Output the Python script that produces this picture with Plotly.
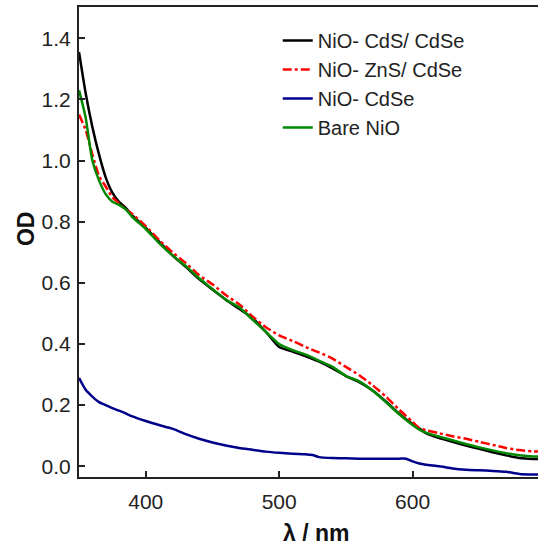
import plotly.graph_objects as go

lam_main = [350, 355, 360, 365, 370, 375, 380, 385, 390, 400, 410, 420, 430, 440, 450,
            460, 470, 480, 490, 500, 510, 520, 530, 540, 550, 560, 570, 580, 590, 600,
            605, 610, 620, 630, 640, 650, 660, 670, 680, 690, 694]

od_cds = [1.355, 1.22, 1.11, 1.02, 0.945, 0.895, 0.865, 0.845, 0.82, 0.78, 0.735, 0.69,
          0.652, 0.612, 0.578, 0.545, 0.515, 0.485, 0.44, 0.39, 0.375, 0.36, 0.342, 0.32,
          0.295, 0.275, 0.248, 0.212, 0.172, 0.138, 0.124, 0.108, 0.092, 0.08, 0.068,
          0.057, 0.046, 0.036, 0.027, 0.024, 0.024]

od_zns = [1.15, 1.10, 1.02, 0.95, 0.915, 0.88, 0.86, 0.84, 0.825, 0.785, 0.74, 0.70,
          0.665, 0.625, 0.595, 0.56, 0.53, 0.49, 0.455, 0.428, 0.41, 0.39, 0.372, 0.352,
          0.325, 0.298, 0.265, 0.228, 0.185, 0.145, 0.125, 0.118, 0.108, 0.098, 0.09,
          0.08, 0.07, 0.06, 0.053, 0.049, 0.048]

od_bare = [1.23, 1.14, 1.00, 0.935, 0.89, 0.865, 0.855, 0.84, 0.815, 0.776, 0.73, 0.69,
           0.655, 0.615, 0.58, 0.545, 0.52, 0.48, 0.44, 0.40, 0.38, 0.365, 0.345, 0.325,
           0.296, 0.278, 0.248, 0.21, 0.17, 0.135, 0.12, 0.11, 0.097, 0.085, 0.073,
           0.062, 0.052, 0.043, 0.036, 0.032, 0.032]

lam_cdse = [350, 355, 360, 365, 370, 375, 380, 385, 390, 400, 410, 420, 430, 440, 450,
            460, 470, 480, 490, 500, 510, 520, 525, 530, 540, 550, 560, 570, 580, 590,
            595, 600, 605, 610, 620, 630, 640, 650, 660, 670, 680, 690, 694]
od_cdse = [0.289, 0.25, 0.228, 0.21, 0.2, 0.19, 0.182, 0.173, 0.163, 0.148, 0.135, 0.123,
           0.105, 0.09, 0.078, 0.068, 0.06, 0.054, 0.048, 0.044, 0.041, 0.039, 0.037,
           0.03, 0.027, 0.026, 0.025, 0.025, 0.025, 0.025, 0.025, 0.016, 0.009, 0.005,
           0.0, -0.007, -0.011, -0.013, -0.015, -0.018, -0.025, -0.027, -0.027]

names = ["NiO- CdS/ CdSe", "NiO- ZnS/ CdSe", "NiO- CdSe", "Bare NiO"]
x_ticks = [400, 500, 600]
y_ticks = [0.0, 0.2, 0.4, 0.6, 0.8, 1.0, 1.2, 1.4]

fig = go.Figure()
fig.add_trace(go.Scatter(x=lam_main, y=od_cds, name=names[0], mode="lines",
                         line=dict(color="#000000", width=2.5, shape="spline", smoothing=0.6)))
fig.add_trace(go.Scatter(x=lam_main, y=od_zns, name=names[1], mode="lines",
                         line=dict(color="#FF0000", width=2.5, dash="dashdot", shape="spline", smoothing=0.6)))
fig.add_trace(go.Scatter(x=lam_cdse, y=od_cdse, name=names[2], mode="lines",
                         line=dict(color="#00008B", width=2.5, shape="spline", smoothing=0.6)))
fig.add_trace(go.Scatter(x=lam_main, y=od_bare, name=names[3], mode="lines",
                         line=dict(color="#008800", width=2.5, shape="spline", smoothing=0.6)))

font_family = "Liberation Sans, Arial, sans-serif"
fig.update_layout(
    width=538, height=545,
    margin=dict(l=79, r=0, t=7, b=68, autoexpand=False),
    paper_bgcolor="white", plot_bgcolor="white",
    font=dict(family=font_family, size=21, color="#222222"),
    showlegend=True,
    legend=dict(x=0.433, y=0.97, xanchor="left", yanchor="top",
                bgcolor="rgba(0,0,0,0)", font=dict(size=20, color="#222222"),
                tracegroupgap=0, itemwidth=30),
    xaxis=dict(range=[350, 694], tickvals=x_ticks, ticks="inside", ticklen=6, tickwidth=1.5,
               tickcolor="#222222", showline=True, linecolor="#222222", linewidth=2,
               mirror=True, showgrid=False, zeroline=False, ticklabelstandoff=5,
               tickfont=dict(size=21)),
    yaxis=dict(range=[-0.035, 1.502], tickvals=y_ticks, tickformat=".1f", ticks="inside",
               ticklen=6, tickwidth=1.5, tickcolor="#222222", showline=True,
               linecolor="#222222", linewidth=2, showgrid=False, zeroline=False,
               ticklabelstandoff=2, tickfont=dict(size=21)),
    annotations=[
        dict(text="<b>λ / nm</b>", xref="paper", yref="paper", x=0.516, y=-0.119,
             xanchor="center", yanchor="middle", showarrow=False,
             font=dict(size=23, color="#111111")),
        dict(text="<b>OD</b>", xref="paper", yref="paper", x=-0.115, y=0.528,
             xanchor="center", yanchor="middle", showarrow=False, textangle=-90,
             font=dict(size=23, color="#111111")),
    ],
)

fig.write_html("out.html", config={"displayModeBar": False},
               post_script="document.body.style.margin='0';document.body.style.overflow='hidden';")
